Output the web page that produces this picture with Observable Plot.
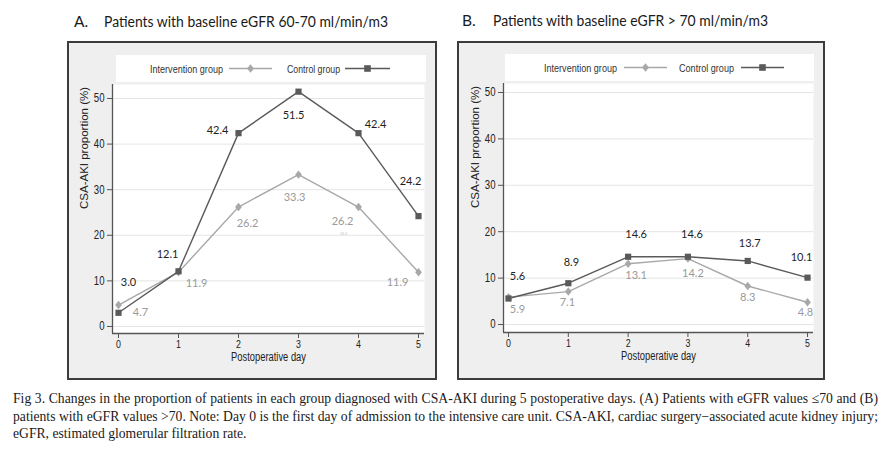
<!DOCTYPE html>
<html><head><meta charset="utf-8">
<script src="https://cdn.jsdelivr.net/npm/d3@7"></script>
<script src="https://cdn.jsdelivr.net/npm/@observablehq/plot@0.6"></script>
<style>
body{margin:0;background:#fff;width:890px;height:452px;overflow:hidden;position:relative;}
.abs{position:absolute;}
.title{font-family:Lato,"Open Sans",sans-serif;font-size:15.5px;color:#1a1a1a;white-space:nowrap;line-height:1;transform-origin:0 50%;}
.box{background:#efefef;border:2px solid #3c3c3c;box-sizing:border-box;}
.legend{background:#fff;}
.legend svg{display:block;}
.cap{font-family:"Liberation Serif","Times New Roman",serif;font-size:14px;color:#1a1a1a;white-space:nowrap;line-height:17px;transform-origin:0 0;}
</style></head>
<body>
<div id="root"></div>
<script>
// ---------- data ----------
const days = [0, 1, 2, 3, 4, 5];
const yTicks = [0, 10, 20, 30, 40, 50];
const seriesNames = ["Intervention group", "Control group"];
const panelLetters = ["A.", "B."];
const panelTitles = ["Patients with baseline eGFR 60-70 ml/min/m3", "Patients with baseline eGFR > 70 ml/min/m3"];
const aIntervention = [4.7, 11.9, 26.2, 33.3, 26.2, 11.9];
const aControl = [3.0, 12.1, 42.4, 51.5, 42.4, 24.2];
const bIntervention = [5.9, 7.1, 13.1, 14.2, 8.3, 4.8];
const bControl = [5.6, 8.9, 14.6, 14.6, 13.7, 10.1];
const ghostLabel = "33.3";
const xTitle = "Postoperative day";
const yTitle = "CSA-AKI proportion (%)";
const captionLines = [
  "Fig 3.  Changes in the proportion of patients in each group diagnosed with CSA-AKI during 5 postoperative days. (A) Patients with eGFR values \u226470 and (B)",
  "patients with eGFR values >70. Note: Day 0 is the first day of admission to the intensive care unit. CSA-AKI, cardiac surgery\u2212associated acute kidney injury;",
  "eGFR, estimated glomerular filtration rate."
];

// ---------- layout (pixel offsets of value labels) ----------
const aCtrlOff = [[10,-30],[-11,-17],[-21,-3],[-5,24],[17,-9],[-8,-35]];
const aIntOff  = [[22,7],[18,11],[9,16],[-4,23],[-16,14],[-21,10]];
const bCtrlOff = [[9,-22],[3,-21],[8,-22],[4,-22],[2,-17],[-6,-20]];
const bIntOff  = [[9,12],[-1,11],[8,12],[5,15],[0,11],[-2,10]];

const CTRL = "#5a5a5a", INT = "#a8a8a8";
const NARROW = 0.8;
const root = document.getElementById("root");

const tallDiamond = {
  draw(ctx, size) {
    const h = Math.sqrt(size) * 0.68, w = h * 0.8;
    ctx.moveTo(0, -h); ctx.lineTo(w, 0); ctx.lineTo(0, h); ctx.lineTo(-w, 0); ctx.closePath();
  }
};

function el(tag, cls, style, html) {
  const e = document.createElement(tag);
  if (cls) e.className = cls;
  Object.assign(e.style, style || {});
  if (html != null) e.innerHTML = html;
  root.appendChild(e);
  return e;
}

function fitWidth(e, target) {
  const w = e.getBoundingClientRect().width;
  if (w > 0) e.style.transform = `scaleX(${target / w})`;
}

function squeeze(t, len) {
  t.setAttribute("textLength", len.toFixed(2));
  t.setAttribute("lengthAdjust", "spacingAndGlyphs");
}

function legend(div, L) {
  const svg = d3.select(div).append("svg").attr("width", 310).attr("height", 27)
    .style("font-family", "'Liberation Sans',Arial,sans-serif").style("font-size", "11.5px");
  const cy = 13.5;
  svg.append("text").attr("x", L.t1).attr("y", cy + 4).attr("fill", "#333").text(seriesNames[0])
    .attr("textLength", L.w1).attr("lengthAdjust", "spacingAndGlyphs");
  svg.append("line").attr("x1", L.l1[0]).attr("x2", L.l1[1]).attr("y1", cy).attr("y2", cy).attr("stroke", INT).attr("stroke-width", 1.3);
  const dx = (L.l1[0] + L.l1[1]) / 2;
  svg.append("path").attr("d", `M${dx},${cy-4.3}L${dx+3.5},${cy}L${dx},${cy+4.3}L${dx-3.5},${cy}Z`).attr("fill", INT);
  svg.append("text").attr("x", L.t2).attr("y", cy + 4).attr("fill", "#333").text(seriesNames[1])
    .attr("textLength", L.w2).attr("lengthAdjust", "spacingAndGlyphs");
  svg.append("line").attr("x1", L.l2[0]).attr("x2", L.l2[1]).attr("y1", cy).attr("y2", cy).attr("stroke", CTRL).attr("stroke-width", 1.3);
  const sx = (L.l2[0] + L.l2[1]) / 2;
  svg.append("rect").attr("x", sx - 3.3).attr("y", cy - 3.3).attr("width", 6.6).attr("height", 6.6).attr("fill", CTRL);
}

function panel(cfg) {
  const rows = days.map((d, i) => ({day: d, inter: cfg.inter[i], ctrl: cfg.ctrl[i]}));
  const labels = [];
  const lf = "Lato, 'Open Sans', sans-serif";
  rows.forEach((r, i) => {
    labels.push(Plot.text([r], {x: "day", y: "ctrl", text: d => d.ctrl.toFixed(1), dx: cfg.offC[i][0], dy: cfg.offC[i][1], fill: "#1e1e1e", fontSize: 11, fontFamily: lf}));
    labels.push(Plot.text([r], {x: "day", y: "inter", text: d => d.inter.toFixed(1), dx: cfg.offI[i][0], dy: cfg.offI[i][1], fill: "#9a9a9a", fontSize: 11, fontFamily: lf}));
  });
  if (cfg.ghost) labels.push(Plot.text([rows[4]], {x: "day", y: "inter", text: () => ghostLabel, dx: -15, dy: 27, fill: "#bbb", fontSize: 3.5}));
  const p = Plot.plot({
    width: cfg.width, height: cfg.height,
    marginLeft: cfg.ml, marginRight: cfg.mr, marginTop: cfg.mt, marginBottom: cfg.mb,
    style: {background: "transparent", fontFamily: "'Liberation Sans',Arial,sans-serif", fontSize: "11px", color: "#222"},
    x: {domain: cfg.xd, axis: null},
    y: {domain: cfg.yd, axis: null},
    marks: [
      Plot.frame({fill: "white", stroke: null}),
      Plot.gridY(yTicks, {stroke: "#e4e4e4", strokeOpacity: 1, strokeWidth: 1}),
      Plot.axisY(yTicks, {anchor: "left", tickSize: 5, tickPadding: 3, stroke: "#555", fill: "#222", label: null, fontSize: 12}),
      Plot.axisX(days, {anchor: "bottom", tickSize: 5, tickPadding: 2, stroke: "#555", fill: "#222", label: null, fontSize: 11}),
      Plot.ruleX([cfg.xd[0]], {stroke: "#555", strokeWidth: 1.3}),
      Plot.ruleY([cfg.yd[0]], {stroke: "#555", strokeWidth: 1.3}),
      Plot.text([xTitle], {frameAnchor: "bottom", dy: 27, text: d => d, fill: "#222", fontSize: 12}),
      Plot.text([yTitle], {frameAnchor: "left", dx: -28, rotate: -90, text: d => d, fill: "#222", fontSize: 11.5}),
      Plot.line(rows, {x: "day", y: "inter", stroke: INT, strokeWidth: 1.4}),
      Plot.line(rows, {x: "day", y: "ctrl", stroke: CTRL, strokeWidth: 1.4}),
      Plot.dot(rows, {x: "day", y: "inter", symbol: tallDiamond, fill: INT, stroke: null, r: 3.5}),
      Plot.dot(rows, {x: "day", y: "ctrl", symbol: "square", fill: CTRL, stroke: null, r: 3.5}),
      ...labels
    ]
  });
  p.style.position = "absolute";
  p.style.left = cfg.left + "px";
  p.style.top = cfg.top + "px";
  root.appendChild(p);
  p.querySelectorAll('g[aria-label="y-axis tick label"] text, g[aria-label="x-axis tick label"] text').forEach(t => {
    const L = t.getComputedTextLength();
    if (L > 0) squeeze(t, L * NARROW);
  });
  p.querySelectorAll("text").forEach(t => {
    if (t.textContent === xTitle) squeeze(t, 75);
  });
}

// boxes
el("div", "abs box", {left: "67px", top: "41px", width: "370px", height: "339px"});
el("div", "abs box", {left: "457px", top: "41px", width: "368px", height: "339px"});
// legends
const lgA = el("div", "abs legend", {left: "116px", top: "55px", width: "310px", height: "27px"});
const lgB = el("div", "abs legend", {left: "505px", top: "54px", width: "309px", height: "27px"});
legend(lgA, {t1: 34, w1: 73, l1: [113, 156], t2: 171, w2: 53, l2: [229, 274]});
legend(lgB, {t1: 39, w1: 73, l1: [119, 162], t2: 174, w2: 55, l2: [236, 279]});

// titles
const tA1 = el("div", "abs title", {left: "74px", top: "14px"}, panelLetters[0]);
const tA2 = el("div", "abs title", {left: "104px", top: "14px"}, panelTitles[0]);
const tB1 = el("div", "abs title", {left: "462px", top: "13px"}, panelLetters[1]);
const tB2 = el("div", "abs title", {left: "493px", top: "13px"}, panelTitles[1].replace(/>/g, "&gt;"));
fitWidth(tA2, 284); fitWidth(tB2, 275);

panel({inter: aIntervention, ctrl: aControl, offC: aCtrlOff, offI: aIntOff, ghost: true,
  left: 67, top: 41, width: 369, height: 338, ml: 45, mr: 12, mt: 43, mb: 46,
  xd: [-0.1, 5.1], yd: [-1.54, 53.07]});
panel({inter: bIntervention, ctrl: bControl, offC: bCtrlOff, offI: bIntOff, ghost: false,
  left: 457, top: 41, width: 367, height: 338, ml: 46, mr: 11, mt: 42, mb: 47,
  xd: [-0.084, 5.1], yd: [-1.72, 51.94]});

// caption
const capTop = 390;
const capEls = captionLines.map((t, i) => el("div", "abs cap", {left: "13px", top: (capTop + i * 17.5) + "px"}, t.replace(/</g, "&lt;").replace(/>/g, "&gt;")));
const natW = Math.max(capEls[0].getBoundingClientRect().width, capEls[1].getBoundingClientRect().width) + 1;
const s = 865 / natW;
capEls.forEach((e, i) => {
  if (i < 2) {
    e.style.width = natW + "px";
    e.style.whiteSpace = "nowrap";
    e.style.textAlign = "justify";
    e.style.textAlignLast = "justify";
  }
  e.style.transform = `scaleX(${s})`;
});
</script>
</body></html>
